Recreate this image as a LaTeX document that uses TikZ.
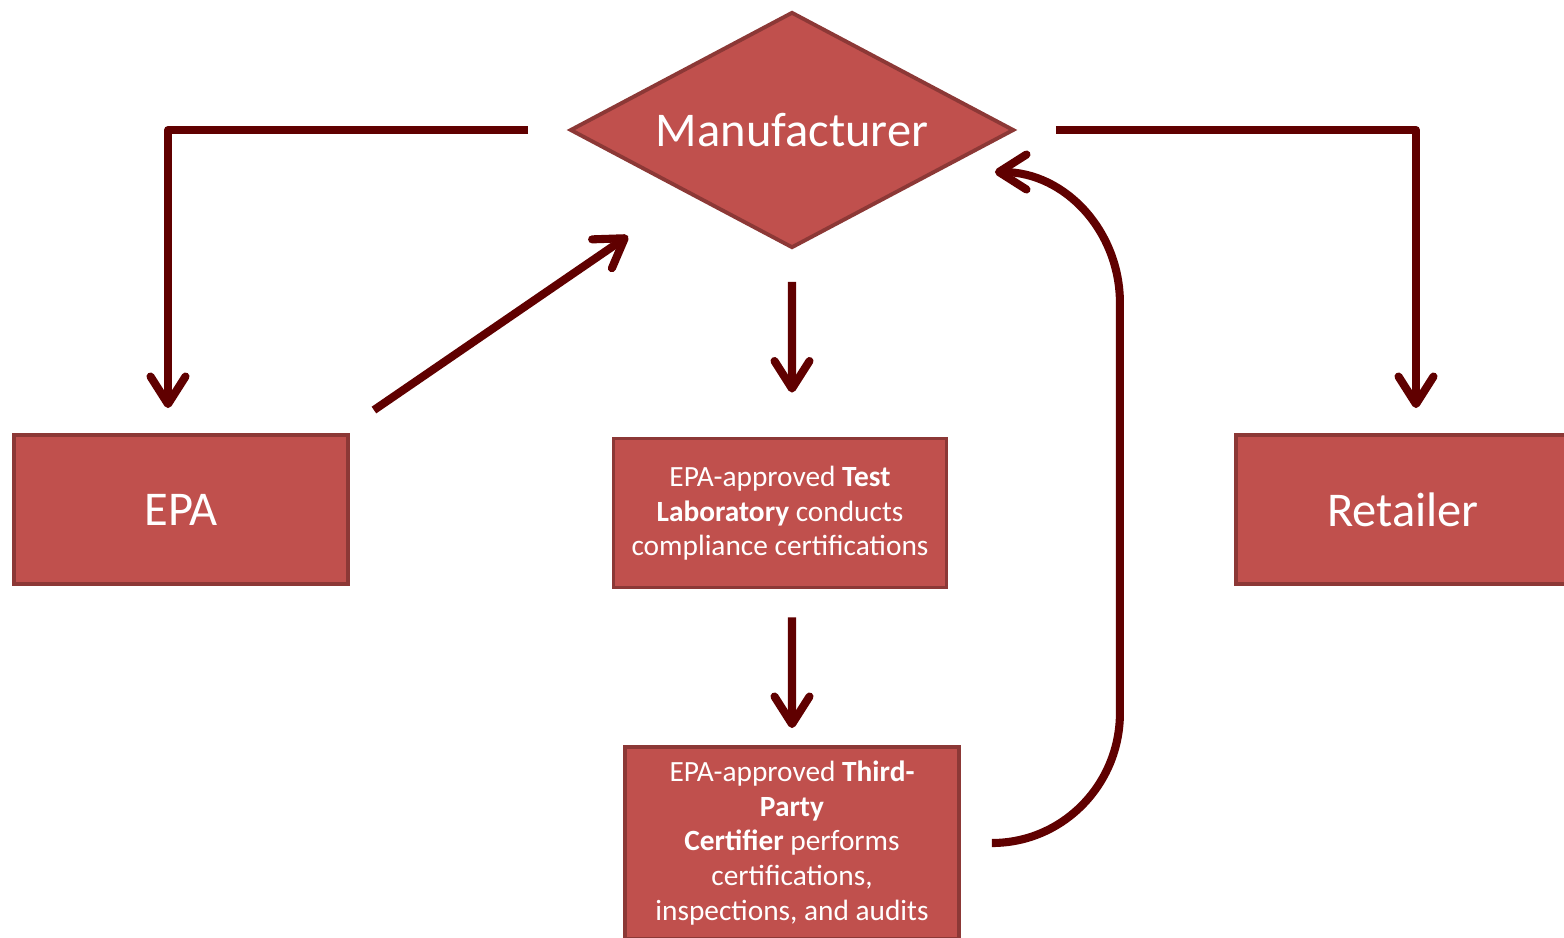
\documentclass[tikz,border=0pt]{standalone}
\usepackage{fontspec}
\setmainfont{Carlito}
\usetikzlibrary{shapes.geometric}
\usetikzlibrary{arrows.meta}
\usetikzlibrary{positioning,calc}
\definecolor{boxred}{HTML}{C0504D}
\definecolor{boxedge}{HTML}{8C3836}
\definecolor{flowred}{HTML}{600000}
\tikzset{elbow/.style={to path={-| (\tikztotarget)}},
 flow edge/.style={line width=4.6pt,draw=flowred,line join=round,
  -{Straight Barb[length=5.5mm,width=7mm,round]}},
 big text/.style={font=\fontsize{27.6}{32}\selectfont},
 small text/.style={font=\fontsize{16.7}{19.8}\selectfont}}

\begin{document}
\begin{tikzpicture}[box/.style={draw=boxedge,fill=boxred,line width=2.2pt,text=white,
  align=center,minimum width=6.68cm,minimum height=2.98cm,inner sep=1mm}]
\useasboundingbox (0,0) rectangle (31.28,-18.76);
\node[diamond,box,big text,minimum width=8.88cm,minimum height=4.72cm,aspect=1.87,inner sep=0pt] (MF) at (15.84,-2.6) {Manufacturer};
\node[box,big text] (EPA) at (3.62,-10.19) {EPA};
\node[box,big text] (RT) at (28.06,-10.19) {Retailer};
\node[box,small text,minimum width=6.66cm,text depth=0.5ex] (TL) at (15.6,-10.26) {EPA-approved \textbf{Test}\\\textbf{Laboratory} conducts\\compliance certifications};
\node[box,small text,minimum height=3.84cm] (TPC) at (15.84,-16.86) {EPA-approved \textbf{Third-}\\\textbf{Party}\\\textbf{Certifier} performs\\certifications,\\inspections, and audits};

\draw ([xshift=-0.8cm]MF.west) edge[flow edge,elbow] ([xshift=-0.26cm,yshift=0.5cm]EPA.north)
([xshift=0.8cm]MF.east) edge[flow edge,elbow] ([xshift=0.26cm,yshift=0.5cm]RT.north)
([xshift=0.48cm,yshift=0.46cm]EPA.north east) edge[flow edge] ([xshift=-1.04cm,yshift=-0.92cm]MF.south west)
([yshift=-0.64cm]MF.south) edge[flow edge] ([xshift=0.24cm,yshift=0.88cm]TL.north)
([xshift=0.24cm,yshift=-0.56cm]TL.south) edge[flow edge] ([yshift=0.34cm]TPC.north)
;
\draw[flow edge] ([xshift=0.62cm]TPC.east) to[out=0,in=-90] ++(2.56,2.6) -- ++(0,8.2)
 to[out=90,in=0] ([xshift=-0.42cm,yshift=-0.84cm]MF.east);
\end{tikzpicture}
\end{document}
